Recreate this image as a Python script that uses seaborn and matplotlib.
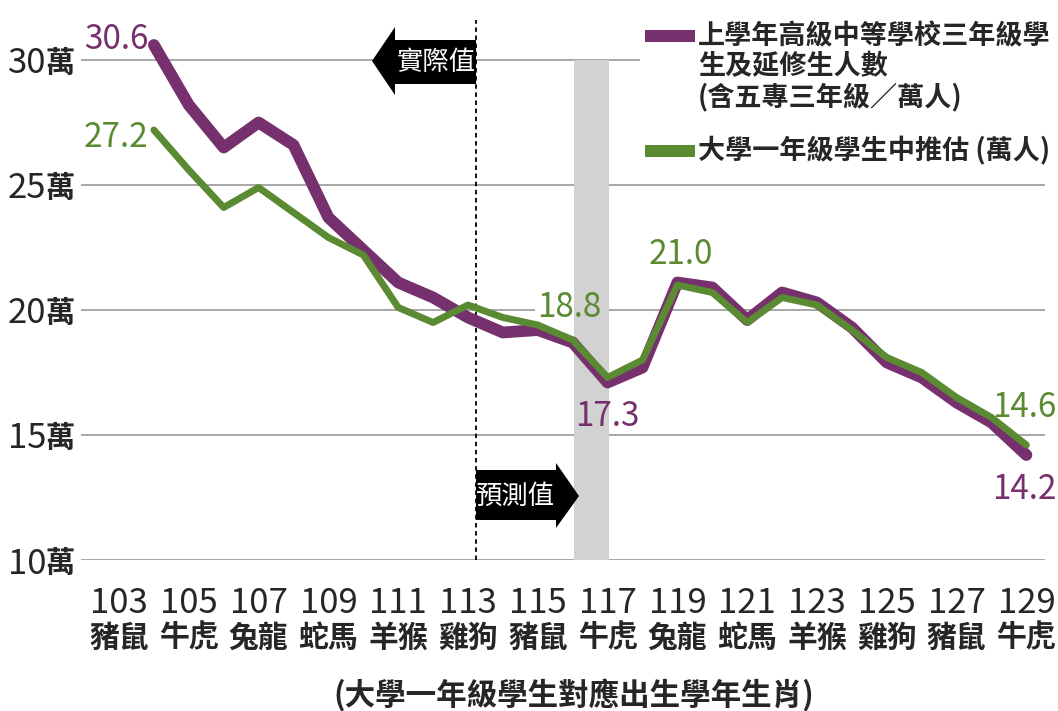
import matplotlib
matplotlib.use("Agg")
import matplotlib.pyplot as plt
from matplotlib import font_manager
from matplotlib.patches import Polygon, Rectangle
import seaborn as sns

# values (萬人), one per academic year
years = list(range(104, 130))
seniors = [30.6, 28.2, 26.5, 27.5, 26.6, 23.7, 22.4, 21.1, 20.5, 19.7, 19.1, 19.2, 18.7,
           17.1, 17.7, 21.1, 20.9, 19.6, 20.7, 20.3, 19.3, 17.9, 17.3, 16.3, 15.5, 14.2]
freshmen = [27.2, 25.6, 24.1, 24.9, 23.9, 22.9, 22.2, 20.1, 19.5, 20.2, 19.7, 19.4, 18.8,
            17.3, 18.0, 21.0, 20.7, 19.5, 20.5, 20.2, 19.2, 18.1, 17.5, 16.5, 15.7, 14.6]

tick_years = [103, 105, 107, 109, 111, 113, 115, 117, 119, 121, 123, 125, 127, 129]
tick_zodiac = ["豬鼠", "牛虎", "兔龍", "蛇馬", "羊猴", "雞狗", "豬鼠",
               "牛虎", "兔龍", "蛇馬", "羊猴", "雞狗", "豬鼠", "牛虎"]
y_ticks = [10, 15, 20, 25, 30]
y_labels = ["10", "15", "20", "25", "30"]

legend_labels = ["上學年高級中等學校三年級學\n生及延修生人數\n(含五專三年級／萬人)",
                 "大學一年級學生中推估 (萬人)"]
x_title = "(大學一年級學生對應出生學年生肖)"

PURPLE = "#77306e"
GREEN = "#5a8a32"

W, H = 1058, 711

sns.set_theme(style="white")
cjk = ["Noto Sans CJK TC", "DejaVu Sans"]
plt.rcParams["font.family"] = cjk
names = {f.name for f in font_manager.fontManager.ttflist}
num_font = "Liberation Sans Narrow" if "Liberation Sans Narrow" in names else "Noto Sans CJK TC"
nums = [num_font] + cjk


def fpx(x, y):
    # pixel position -> figure fraction
    return (x / W, 1 - y / H)


fig = plt.figure(figsize=(W / 100, H / 100), dpi=100)
ax = fig.add_axes([81 / W, 1 - 560 / H, (1045 - 81) / W, (560 - 20) / H])
ax.set_xlim(103 + (81 - 119) / 34.9, 103 + (1045 - 119) / 34.9)
ax.set_ylim(10, 31.6)

# grey band and the actual/forecast divider
ax.fill_between([116.05, 117.05], 10, 30, color="#d2d2d2", lw=0, zorder=1)
ax.axvline(113.23, color="black", lw=1.3, ls=(0, (2.5, 2)), zorder=2)

sns.lineplot(x=years, y=seniors, ax=ax, color=PURPLE, linewidth=8.5, legend=False,
             solid_capstyle="round", solid_joinstyle="round", zorder=3)
sns.lineplot(x=years, y=freshmen, ax=ax, color=GREEN, linewidth=5, legend=False,
             solid_capstyle="round", solid_joinstyle="round", zorder=4)

ax.grid(axis="y", color="#8f8f8f", lw=1.1)
ax.grid(axis="x", visible=False)
ax.set_axisbelow(True)
for s in ax.spines.values():
    s.set_visible(False)

# y axis: numbers plus 萬 on a second axis
ax.set_yticks(y_ticks, labels=y_labels)
ax.tick_params(axis="y", length=0, pad=25, labelsize=25)
for t in ax.get_yticklabels():
    t.set_fontfamily(nums)
sy = ax.secondary_yaxis("left")
sy.set_yticks(y_ticks, labels=["萬"] * len(y_ticks))
sy.tick_params(axis="y", length=0, pad=4.3, labelsize=21)
for t in sy.get_yticklabels():
    t.set_fontweight("bold")
sy.spines["left"].set_visible(False)

# x axis: year numbers plus zodiac row on a second axis
ax.set_xticks(tick_years, labels=[str(y) for y in tick_years])
ax.tick_params(axis="x", length=0, pad=19, labelsize=25)
for t in ax.get_xticklabels():
    t.set_fontfamily(nums)
sx = ax.secondary_xaxis("bottom")
sx.set_xticks(tick_years, labels=tick_zodiac)
sx.tick_params(axis="x", length=0, pad=45, labelsize=21.5)
for t in sx.get_xticklabels():
    t.set_fontweight("bold")
sx.spines["bottom"].set_visible(False)

ax.set_xlabel("")
ax.set_ylabel("")
fig.text(574 / W, 1 - 695 / H, x_title, ha="center", va="center",
         fontsize=22, fontweight="bold")

# value labels (offsets in pixels from the data point); 18.8 breaks the gridline
k = 72 / 100
marks = [(seniors, 104, "30.6", PURPLE, -38, 5, False),
         (freshmen, 104, "27.2", GREEN, -38, -8, False),
         (freshmen, 116, "18.8", GREEN, -3, 32, True),
         (seniors, 117, "17.3", PURPLE, 0, -34, False),
         (freshmen, 119, "21.0", GREEN, 3, 30, False),
         (freshmen, 129, "14.6", GREEN, -2, 37, False),
         (seniors, 129, "14.2", PURPLE, -2, -35, False)]
for series, yr, txt, col, dx, dy, boxed in marks:
    xy = (yr, series[years.index(yr)])
    if boxed:
        # white patch under the text that hides the gridline but not the band
        ax.annotate(txt, xy=xy, xytext=(dx * k, dy * k), textcoords="offset points",
                    ha="center", va="center", color="white", fontsize=24,
                    fontfamily=nums, zorder=0.8, annotation_clip=False,
                    bbox=dict(boxstyle="square,pad=0.08", fc="white", ec="none"))
    ax.annotate(txt, xy=xy, xytext=(dx * k, dy * k), textcoords="offset points",
                ha="center", va="center", color=col, fontsize=24, fontfamily=nums,
                zorder=2.5, annotation_clip=False)

# arrow boxes
fig.add_artist(Polygon([fpx(476, 40), fpx(395, 40), fpx(395, 27), fpx(372, 61),
                        fpx(395, 95), fpx(395, 84), fpx(476, 84)],
                       closed=True, fc="black", ec="none", transform=fig.transFigure, zorder=5))
fig.text(*fpx(436, 62), "實際值", color="white", ha="center", va="center",
         fontsize=19, zorder=6)
fig.add_artist(Polygon([fpx(476, 470), fpx(556, 470), fpx(556, 463), fpx(579, 496),
                        fpx(556, 528), fpx(556, 520), fpx(476, 520)],
                       closed=True, fc="black", ec="none", transform=fig.transFigure, zorder=5))
fig.text(*fpx(515, 496), "預測值", color="white", ha="center", va="center",
         fontsize=19, zorder=6)

# legend block
fig.add_artist(Rectangle(fpx(640, 172), (1058 - 640) / W, 172 / H, fc="white", ec="none",
                         transform=fig.transFigure, zorder=5))
for col, label, y0 in [(PURPLE, legend_labels[0], 36), (GREEN, legend_labels[1], 151)]:
    fig.add_artist(Rectangle(fpx(645, y0 + 6), 50 / W, 12 / H, fc=col, ec="none",
                             transform=fig.transFigure, zorder=6))
    for j, line in enumerate(label.split("\n")):
        fig.text(*fpx(698, y0 + j * 30.5), line, ha="left", va="center",
                 fontsize=19.5, fontweight="bold", zorder=7)

fig.savefig("out.png", dpi=100)
